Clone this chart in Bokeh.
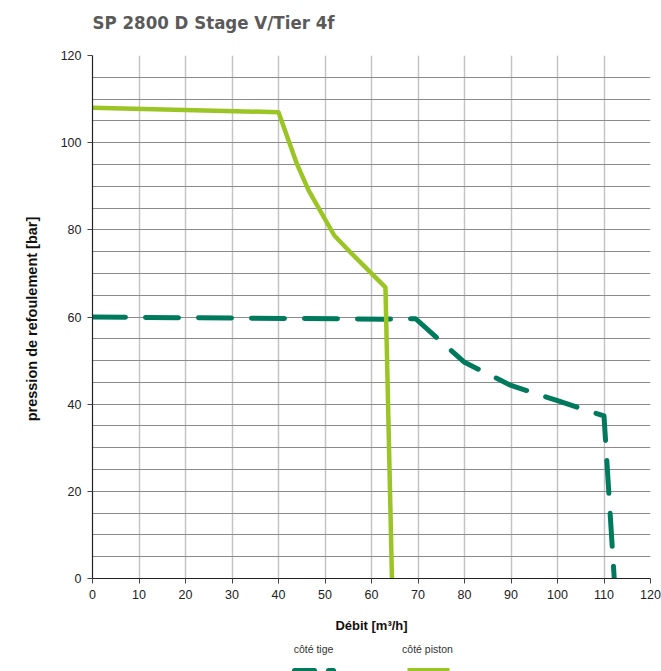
from bokeh.plotting import figure
from bokeh.layouts import column
from bokeh.models import FixedTicker, Range1d
from bokeh.core.properties import value
from bokeh.embed import file_html
from bokeh.resources import INLINE

title_text = "SP 2800 D Stage V/Tier 4f"
x_label = "Débit [m³/h]"
y_label = "pression de refoulement  [bar]"
x_ticks = [0, 10, 20, 30, 40, 50, 60, 70, 80, 90, 100, 110, 120]
y_ticks = [0, 20, 40, 60, 80, 100, 120]
y_grid = list(range(0, 121, 5))

# côté piston (light green, solid)
piston_x = [0, 40, 44, 46.5, 52, 55.5, 63, 64.4]
piston_y = [108, 107, 95, 89, 78.7, 74.8, 66.8, 0]

# côté tige (dark green, dashed)
tige_x = [0, 63, 69.5, 80, 90, 100, 110, 112.2]
tige_y = [60, 59.5, 59.6, 49.6, 44.3, 40.8, 37.3, 0]

legend_names = ["côté tige", "côté piston"]
DARK = "#007a5c"
LIGHT = "#9bc524"

W = 661
H_TOP = 40
H_MAIN = 596
H_LEG = 35


def strip(h):
    f = figure(width=W, height=h, output_backend="svg", toolbar_location=None,
               x_range=Range1d(92, 650), y_range=Range1d(0, h),
               x_axis_location=None, y_axis_location=None,
               min_border=0, min_border_left=92, min_border_right=W - 650,
               min_border_top=0, min_border_bottom=0)
    f.outline_line_color = None
    f.xgrid.visible = False
    f.ygrid.visible = False
    return f


# title strip
top = strip(H_TOP)
top.text(x=[92], y=[H_TOP - 22], text=[title_text], text_align="left",
         text_baseline="middle",
         text_font=value("'Liberation Sans Narrow', 'DejaVu Sans Condensed', sans-serif"),
         text_font_size="18.5px", text_font_style="bold", text_color="#5a5a5a")

p = figure(width=W, height=H_MAIN, output_backend="svg", toolbar_location=None,
           x_range=Range1d(0, 120), y_range=Range1d(0, 120),
           min_border_left=92, min_border_right=W - 650, min_border_top=55 - H_TOP,
           min_border_bottom=H_MAIN - (578 - H_TOP))
p.outline_line_color = None
p.background_fill_color = "white"

p.xaxis.ticker = FixedTicker(ticks=x_ticks)
p.yaxis.ticker = FixedTicker(ticks=y_ticks)
p.ygrid.ticker = FixedTicker(ticks=y_grid)
p.xgrid.ticker = FixedTicker(ticks=x_ticks)
p.xgrid.grid_line_color = "#c4c4c4"
p.xgrid.grid_line_width = 1.5
p.ygrid.grid_line_color = "#8a8a8a"
p.ygrid.grid_line_width = 1

for ax in (p.xaxis[0], p.yaxis[0]):
    ax.axis_line_color = "#222222"
    ax.axis_line_width = 1.2
    ax.major_tick_line_color = "#444444"
    ax.major_tick_out = 5
    ax.major_tick_in = 0
    ax.minor_tick_line_color = None
    ax.major_label_text_font = "'Liberation Sans', Arial, sans-serif"
    ax.major_label_text_font_size = "12.5px"
    ax.major_label_text_color = "#222222"
    ax.axis_label_text_font = "'Liberation Sans', Arial, sans-serif"
    ax.axis_label_text_font_size = "13px"
    ax.axis_label_text_font_style = "bold"
    ax.axis_label_text_color = "#111111"

p.xaxis.axis_label = x_label
p.yaxis.axis_label = y_label
p.yaxis.axis_label_text_font_size = "14.5px"
p.xaxis.major_label_standoff = 6
p.yaxis.major_label_standoff = 6
p.xaxis.axis_label_standoff = 16
p.yaxis.axis_label_standoff = 18

p.line(tige_x, tige_y, line_color=DARK, line_width=5, line_dash="33 20",
       line_cap="round", line_join="round")
p.line(piston_x, piston_y, line_color=LIGHT, line_width=4.5, line_join="round")

# legend strip below
leg = strip(H_LEG)
leg.text(x=[313, 427], y=[23, 23], text=legend_names, text_align="center",
         text_baseline="middle", text_font=value("Liberation Sans"),
         text_font_size="10.5px", text_color="#333333")
leg.line([294, 314], [1, 1], line_color=DARK, line_width=5, line_cap="round")
leg.line([328, 333], [1, 1], line_color=DARK, line_width=5, line_cap="round")
leg.line([407, 449], [1, 1], line_color=LIGHT, line_width=5)

layout = column(top, p, leg, spacing=0)
open("out.html", "w").write(file_html(layout, INLINE))
